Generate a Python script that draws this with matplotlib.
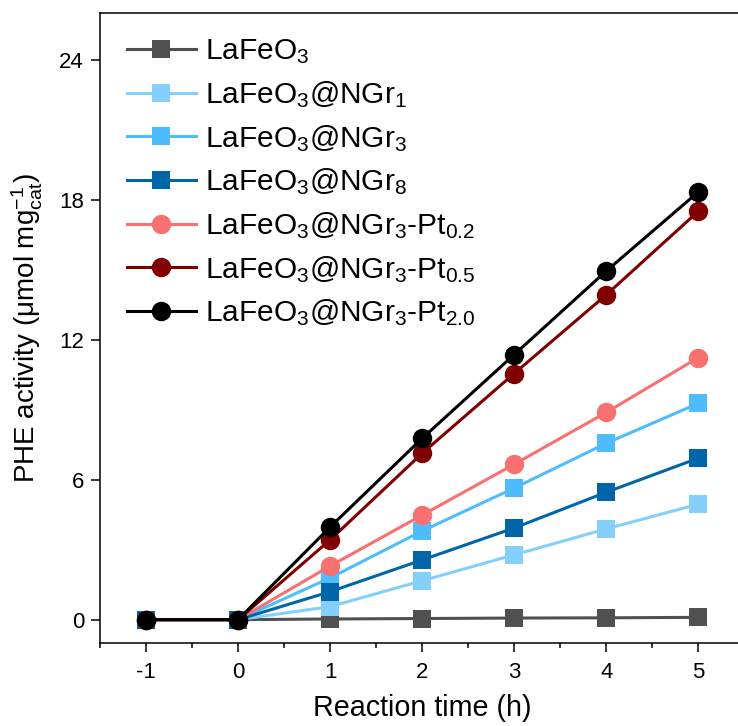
import matplotlib.pyplot as plt

plt.rcParams['font.family'] = ['Liberation Sans', 'DejaVu Sans']
plt.rcParams['mathtext.fontset'] = 'custom'
plt.rcParams['mathtext.rm'] = 'Liberation Sans'
plt.rcParams['mathtext.it'] = 'Liberation Sans'
plt.rcParams['mathtext.default'] = 'regular'
plt.rcParams['axes.unicode_minus'] = False

# reaction time (h)
time = [-1, 0, 1, 2, 3, 4, 5]

# PHE activity
lafeo3 = [0, 0, 0.03, 0.05, 0.07, 0.08, 0.1]
ngr1 = [0, 0, 0.56, 1.67, 2.78, 3.89, 4.95]
ngr3 = [0, 0, 1.79, 3.8, 5.64, 7.56, 9.27]
ngr8 = [0, 0, 1.2, 2.56, 3.93, 5.46, 6.92]
pt02 = [0, 0, 2.3, 4.48, 6.66, 8.88, 11.23]
pt05 = [0, 0, 3.42, 7.13, 10.55, 13.92, 17.5]
pt20 = [0, 0, 3.97, 7.77, 11.36, 14.94, 18.33]

labels = ['LaFeO$_3$', 'LaFeO$_3$@NGr$_1$', 'LaFeO$_3$@NGr$_3$', 'LaFeO$_3$@NGr$_8$',
          'LaFeO$_3$@NGr$_3$-Pt$_{0.2}$', 'LaFeO$_3$@NGr$_3$-Pt$_{0.5}$',
          'LaFeO$_3$@NGr$_3$-Pt$_{2.0}$']
series = [lafeo3, ngr1, ngr3, ngr8, pt02, pt05, pt20]
colors = ['#505050', '#85cffd', '#4ebcfd', '#0066aa', '#f87070', '#800000', '#000000']
markers = ['s', 's', 's', 's', 'o', 'o', 'o']

fig = plt.figure(figsize=(7.38, 7.26), dpi=100)
# right spine sits just outside the picture, as in the original
ax = fig.add_axes([0.1355, 0.1143, 0.873, 0.8678])

for y, lab, c, m in zip(series, labels, colors, markers):
    ms = 12.5 if m == 's' else 14
    ax.plot(time, y, color=c, marker=m, markersize=ms, linewidth=2.2, label=lab,
            markeredgewidth=0)

ax.set_xlim(-1.5, 5.5)
ax.set_ylim(-1, 26)
ax.set_xticks(time)
ax.set_xticks([-1.5, -0.5, 0.5, 1.5, 2.5, 3.5, 4.5], minor=True)
ax.set_yticks([0, 6, 12, 18, 24])
ax.tick_params(axis='both', which='major', direction='out', length=6.5, width=1.1,
               labelsize=16, pad=5)
ax.tick_params(axis='x', which='major', pad=7)
ax.tick_params(axis='x', which='minor', direction='out', length=3.5, width=1.1)
for s in ax.spines.values():
    s.set_linewidth(1.1)

ax.set_xlabel('Reaction time (h)', fontsize=20.7, labelpad=8)
ax.set_ylabel('PHE activity (μmol mg$^{-1}_{cat}$)', fontsize=20, labelpad=10)

ax.legend(loc='upper left', bbox_to_anchor=(0.042, 0.961), frameon=False, fontsize=21.5,
          handlelength=2.3, handletextpad=0.3, labelspacing=0.43, borderpad=0,
          borderaxespad=0)

fig.savefig('out.png', dpi=100)
